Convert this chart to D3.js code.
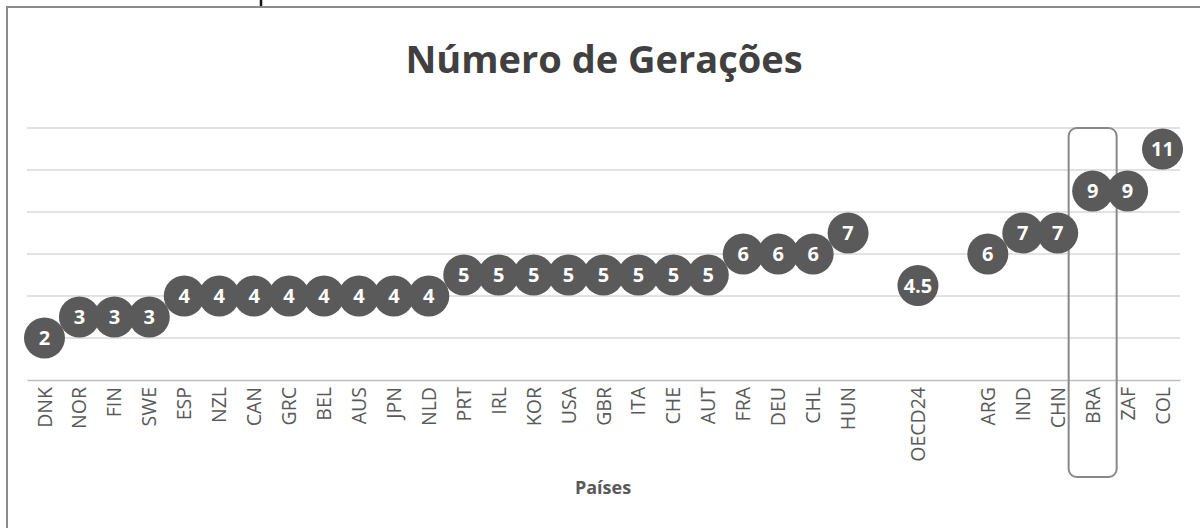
<!DOCTYPE html>
<html>
<head>
<meta charset="utf-8">
<script src="https://cdn.jsdelivr.net/npm/d3@7"></script>
<style>
  body { margin: 0; background: #fff; }
  svg { display: block; }
</style>
</head>
<body>
<script>
// data
const paises = ['DNK','NOR','FIN','SWE','ESP','NZL','CAN','GRC','BEL','AUS','JPN','NLD',
  'PRT','IRL','KOR','USA','GBR','ITA','CHE','AUT','FRA','DEU','CHL','HUN',
  '','OECD24','','ARG','IND','CHN','BRA','ZAF','COL'];
const geracoes = [2,3,3,3,4,4,4,4,4,4,4,4,
  5,5,5,5,5,5,5,5,6,6,6,7,
  null,4.5,null,6,7,7,9,9,11];
const yTicks = [0,2,4,6,8,10,12];
const destaque = 'BRA';

const width = 1200, height = 528;
const svg = d3.select('body').append('svg').attr('width', width).attr('height', height);

// outer frame
svg.append('rect').attr('x', 7).attr('y', 7).attr('width', 1300).attr('height', 600)
  .attr('fill', 'none').attr('stroke', '#8a8a8a').attr('stroke-width', 2);
svg.append('line').attr('x1', 261).attr('x2', 261).attr('y1', 0).attr('y2', 6)
  .attr('stroke', '#111').attr('stroke-width', 2.5);

const x = d3.scaleBand()
  .domain(d3.range(paises.length))
  .range([27, 1180]);

const y = d3.scaleLinear()
  .domain([0, 12])
  .range([380, 128]);

// gridlines
svg.append('g').selectAll('line')
  .data(yTicks.filter(d => d > 0))
  .join('line')
  .attr('x1', 27).attr('x2', 1180)
  .attr('y1', d => y(d)).attr('y2', d => y(d))
  .attr('stroke', '#d9d9d9').attr('stroke-width', 1.5);

// x axis
const xAxis = svg.append('g')
  .attr('transform', 'translate(0,' + y(0) + ')')
  .call(d3.axisBottom(x).tickSize(0).tickFormat(i => paises[i]));
xAxis.select('.domain').attr('stroke', '#bfbfbf').attr('stroke-width', 1.5);
xAxis.selectAll('text')
  .attr('font-family', 'Open Sans')
  .attr('font-size', 19.5)
  .attr('fill', '#595959')
  .attr('text-anchor', 'end')
  .attr('transform', 'rotate(-90)')
  .attr('x', -7)
  .attr('y', 0)
  .attr('dy', '0.36em');

// highlight box for Brasil
const bi = paises.indexOf(destaque);
svg.append('rect')
  .attr('x', x(bi) + x.bandwidth() / 2 - 24)
  .attr('y', y(12))
  .attr('width', 48)
  .attr('height', 477 - y(12))
  .attr('rx', 8)
  .attr('fill', 'none')
  .attr('stroke', '#888')
  .attr('stroke-width', 2);

// points
const pts = paises.map((p, i) => ({ p: p, i: i, v: geracoes[i] })).filter(d => d.v != null);

const g = svg.append('g').selectAll('g')
  .data(pts)
  .join('g')
  .attr('transform', d => 'translate(' + (x(d.i) + x.bandwidth() / 2) + ',' + y(d.v) + ')');

g.append('circle')
  .attr('r', 20.5)
  .attr('fill', '#5a5a5a');

g.append('text')
  .attr('text-anchor', 'middle')
  .attr('dy', '0.36em')
  .attr('font-family', 'Open Sans')
  .attr('font-weight', 'bold')
  .attr('font-size', 20)
  .attr('fill', '#fff')
  .text(d => d.v);

// title
svg.append('text')
  .attr('x', 604).attr('y', 73)
  .attr('text-anchor', 'middle')
  .attr('font-family', 'Open Sans')
  .attr('font-weight', 'bold')
  .attr('font-size', 38)
  .attr('fill', '#404040')
  .text('Número de Gerações');

// axis title
svg.append('text')
  .attr('x', 603).attr('y', 494)
  .attr('text-anchor', 'middle')
  .attr('font-family', 'Open Sans')
  .attr('font-weight', 'bold')
  .attr('font-size', 18)
  .attr('fill', '#595959')
  .text('Países');
</script>
</body>
</html>
